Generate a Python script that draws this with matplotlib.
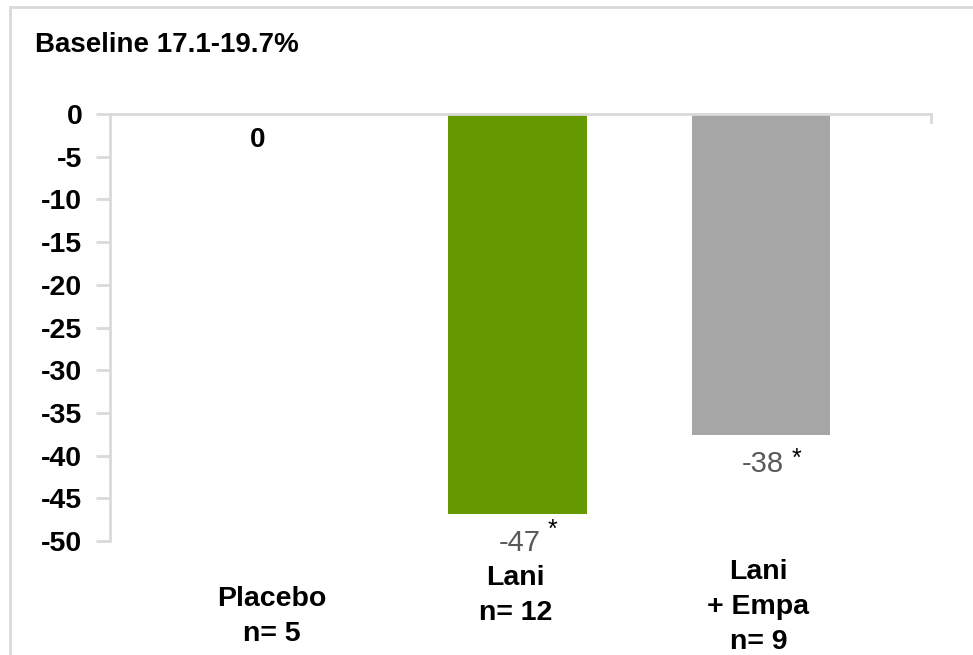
import matplotlib.pyplot as plt
from matplotlib.patches import Rectangle

plt.rcParams['font.family'] = ['Liberation Sans', 'DejaVu Sans']

# data
groups = ['Placebo\nn= 5', 'Lani\nn= 12', 'Lani\n+ Empa\nn= 9']
values = [0, -46.8, -37.6]
value_labels = ['0', '-47', '-38']
stars = ['', '*', '*']
bar_colors = ['#ffffff', '#669900', '#a6a6a6']
label_y = [-58.8, -56.4, -57.7]
yticks = [0, -5, -10, -15, -20, -25, -30, -35, -40, -45, -50]

W, H = 973, 655
fig = plt.figure(figsize=(W / 100, H / 100), dpi=100)
ax = fig.add_axes([110 / W, (H - 541) / H, (931 - 110) / W, 427 / H])

# outer frame of the pasted chart (cropped on the right/bottom)
fig.patches.append(Rectangle((10 / W, -0.1), 1.2, (H - 7) / H + 0.1, transform=fig.transFigure,
                             fill=False, edgecolor='#d9d9d9', linewidth=2))

x = list(range(len(groups)))
ax.bar([p + 0.01 for p in x], values, width=0.57, color=bar_colors, zorder=2)

ax.set_xlim(-0.667, 2.71)
ax.set_ylim(-50, 0)
ax.set_yticks(yticks)
ax.set_yticklabels([str(t) for t in yticks], fontsize=20.5, fontweight='bold')
ax.set_xticks([])

grey = '#d9d9d9'
for s in ['right', 'bottom']:
    ax.spines[s].set_visible(False)
for s in ['left', 'top']:
    ax.spines[s].set_color(grey)
    ax.spines[s].set_linewidth(2)
ax.tick_params(axis='y', length=10, width=2, color=grey, pad=10)
ax.plot([1, 1], [1, 1 - 8 / 427], transform=ax.transAxes, color=grey, lw=2, clip_on=False)

# value labels
for i, v in enumerate(values):
    if value_labels[i] == '0':
        ax.text(i - 0.06, v - 3.0, value_labels[i], ha='center', va='center',
                fontsize=20, fontweight='bold', color='black')
    else:
        ax.text(i + 0.02, v - 3.4, value_labels[i], ha='center', va='center',
                fontsize=21, color='#595959')
for i, s in enumerate(stars):
    if s:
        dy = 1.5 if i == 1 else 0.6
        ax.text(i + 0.155, values[i] - 3.4 + dy, s, ha='center', va='center',
                fontsize=18, color='black')

# category labels
for i, g in enumerate(groups):
    ax.text(i, label_y[i], g, ha='center', va='center', fontsize=20.5, fontweight='bold',
            linespacing=1.45, clip_on=False)

fig.text(35 / W, 1 - 45 / H, 'Baseline 17.1-19.7%', ha='left', va='center',
         fontsize=20, fontweight='bold')

fig.savefig('out.png', dpi=100)
